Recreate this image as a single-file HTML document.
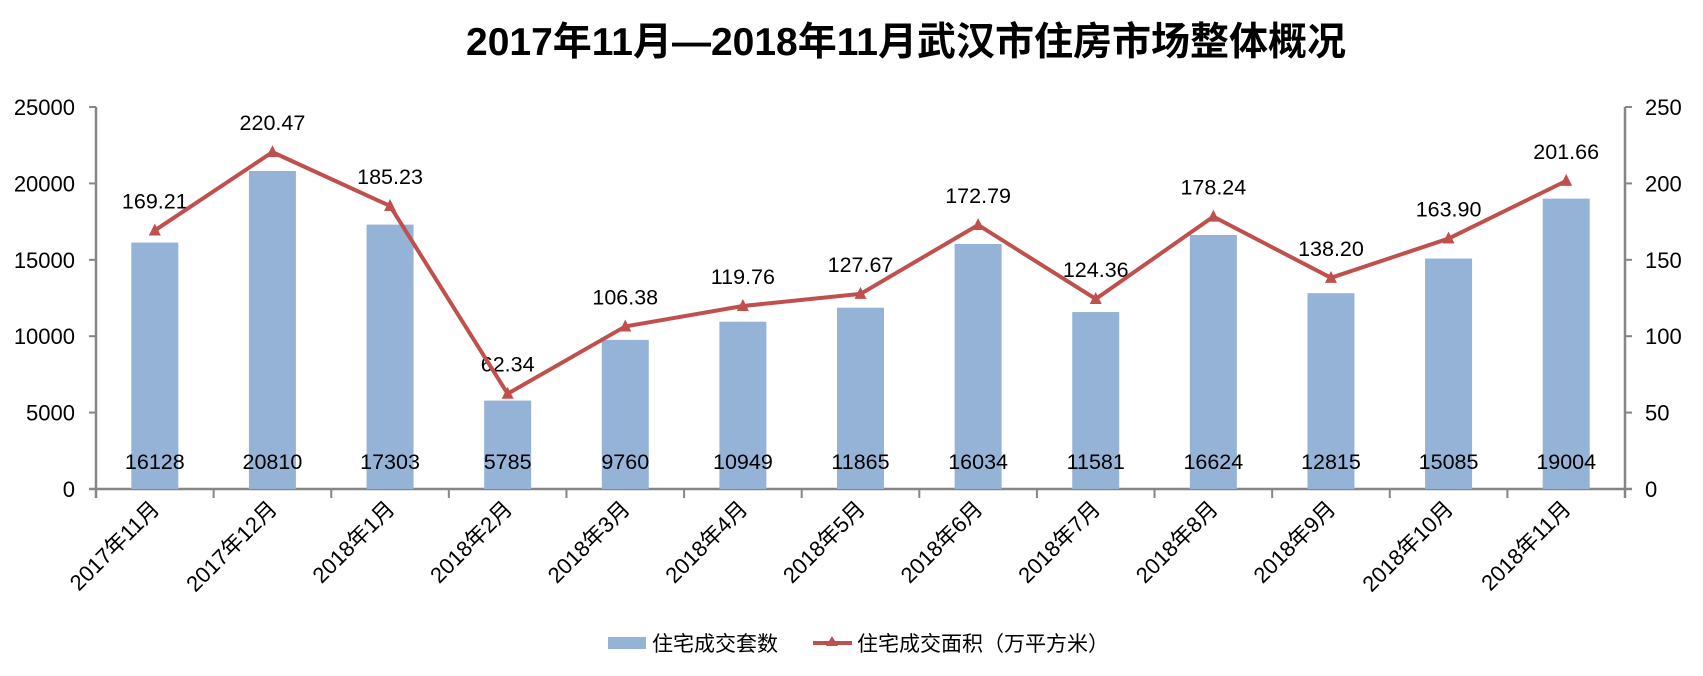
<!DOCTYPE html>
<html><head><meta charset="utf-8"><style>
body{margin:0;background:#fff}
svg{display:block}
text{font-family:"Liberation Sans","Noto Sans CJK SC",sans-serif;fill:#000}
</style></head><body>
<svg width="1703" height="676" viewBox="0 0 1703 676" xmlns="http://www.w3.org/2000/svg">
<text x="906" y="55" text-anchor="middle" font-size="39" font-weight="bold">2017年11月—2018年11月武汉市住房市场整体概况</text>
<g stroke="#868686" stroke-width="2.5" fill="none">
<line x1="96" y1="107" x2="96" y2="498"/>
<line x1="1625" y1="107" x2="1625" y2="498"/>
<line x1="89" y1="489" x2="1632" y2="489"/>
</g>
<g id="ticks" stroke="#868686" stroke-width="2"></g>
<g id="bars" fill="#95B3D7"></g>
<g id="labels"></g>
<polyline id="line" fill="none" stroke="#C0504D" stroke-width="4" stroke-linejoin="round"/>
<g id="tri" fill="#C0504D"></g>
<rect x="608" y="637" width="38" height="12" fill="#95B3D7"/>
<text x="652" y="651" font-size="21">住宅成交套数</text>
<line x1="813" y1="643" x2="852" y2="643" stroke="#C0504D" stroke-width="4"/>
<polygon points="832,636 838,646 826,646" fill="#C0504D"/>
<text x="857" y="651" font-size="21">住宅成交面积（万平方米）</text>
<script>
var ns="http://www.w3.org/2000/svg";
function el(p,t,a,txt){var e=document.createElementNS(ns,t);for(var k in a)e.setAttribute(k,a[k]);if(txt!=null)e.textContent=txt;document.getElementById(p).appendChild(e);return e;}
var cats=["2017年11月","2017年12月","2018年1月","2018年2月","2018年3月","2018年4月","2018年5月","2018年6月","2018年7月","2018年8月","2018年9月","2018年10月","2018年11月"];
var bars=[16128,20810,17303,5785,9760,10949,11865,16034,11581,16624,12815,15085,19004];
var ln=[169.21,220.47,185.23,62.34,106.38,119.76,127.67,172.79,124.36,178.24,138.20,163.90,201.66];
var L=96,R=1625,T=107,B=489,H=B-T,st=(R-L)/13;
for(var i=0;i<=5;i++){var y=B-H*i/5;
el("ticks","line",{x1:89,y1:y,x2:96,y2:y});el("ticks","line",{x1:1625,y1:y,x2:1632,y2:y});
el("labels","text",{x:75,y:y+8,"text-anchor":"end","font-size":22},String(i*5000));
el("labels","text",{x:1645,y:y+8,"font-size":22},String(i*50));}
for(var i=0;i<=13;i++){var x=L+st*i;el("ticks","line",{x1:x,y1:489,x2:x,y2:498});}
var pts=[];
for(var i=0;i<13;i++){var cx=L+st*(i+0.5);
var bh=bars[i]/25000*H;el("bars","rect",{x:cx-23.5,y:B-bh,width:47,height:bh});
el("labels","text",{x:cx,y:469,"text-anchor":"middle","font-size":21.5},String(bars[i]));
var ly=B-ln[i]/250*H;pts.push(cx+","+ly);
el("tri","polygon",{points:(cx)+","+(ly-7)+" "+(cx+6)+","+(ly+5)+" "+(cx-6)+","+(ly+5)});
el("labels","text",{x:cx,y:ly-22,"text-anchor":"middle","font-size":21.5},ln[i].toFixed(2));
el("labels","text",{x:cx+6,y:510,"text-anchor":"end","font-size":22,transform:"rotate(-45 "+(cx+6)+" 510)"},cats[i]);}
document.getElementById("line").setAttribute("points",pts.join(" "));
</script>
</svg>
</body></html>
